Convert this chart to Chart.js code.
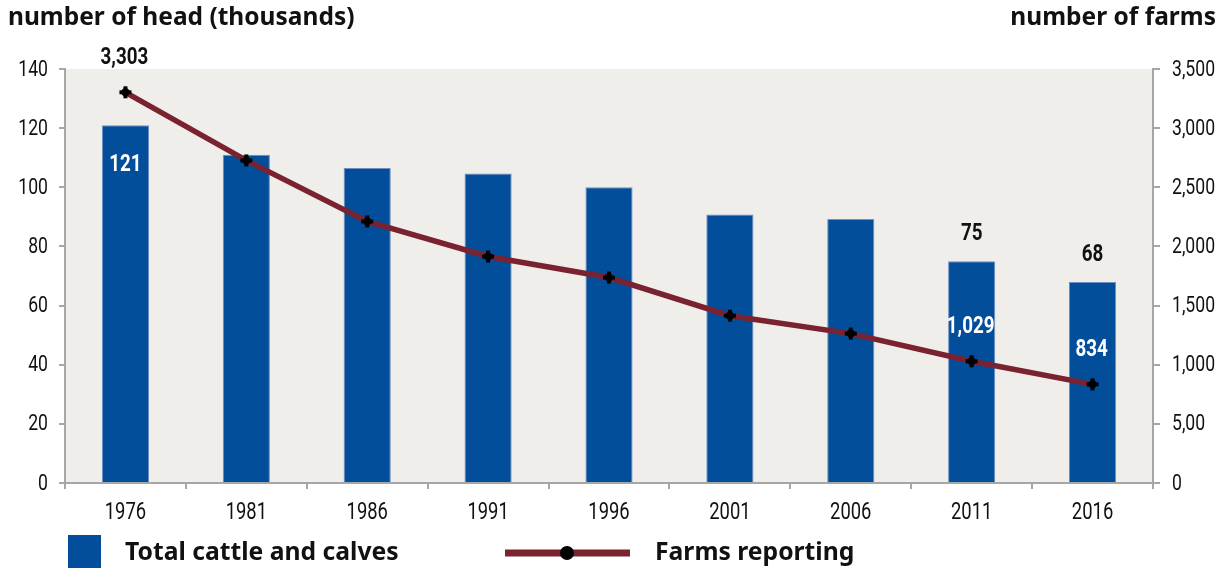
<!DOCTYPE html>
<html>
<head>
<meta charset="utf-8">
<script src="https://cdn.jsdelivr.net/npm/chart.js@4"></script>
<style>
  html, body { margin: 0; padding: 0; background: #fff; }
  #wrap { width: 1222px; height: 571px; }
</style>
</head>
<body>
<div id="wrap"><canvas id="cattleChart" width="1222" height="571"></canvas></div>
<script>
// census years and values
const years = ['1976', '1981', '1986', '1991', '1996', '2001', '2006', '2011', '2016'];
const cattleHead = [121, 111, 106.5, 104.7, 100, 90.8, 89.3, 75, 68];
const farmsReporting = [3303, 2727, 2211, 1915, 1737, 1414, 1263, 1029, 834];
const rightTickLabels = ['0', '5,00', '1,000', '1,500', '2,000', '2,500', '3,000', '3,500'];

// which points get a value printed on them
const barLabels = [{ i: 0, where: 'inside' }, { i: 7, where: 'above' }, { i: 8, where: 'above' }];
const lineLabels = [{ i: 0, where: 'above' }, { i: 7, where: 'below' }, { i: 8, where: 'below' }];

const NARROW = "Roboto, 'Noto Sans', sans-serif";
const BOLD = "'Noto Sans', 'DejaVu Sans', sans-serif";
const SQUEEZE = 0.8; // no condensed face installed, so squeeze text sideways
const BLUE = '#034E9B';
const MAROON = '#7A2230';
const AXIS = '#A6A6A6';

const fmt = v => Math.round(v).toLocaleString('en-US');

function narrowText(ctx, text, x, y, align) {
    ctx.save();
    ctx.translate(x, y);
    ctx.scale(SQUEEZE, 1);
    ctx.textAlign = align;
    ctx.fillText(text, 0, 0);
    ctx.restore();
}

// light grey plot background
const plotBg = {
    id: 'plotBg',
    beforeDraw(chart) {
        const { ctx, chartArea: a } = chart;
        ctx.save();
        ctx.fillStyle = '#EFEEEA';
        ctx.fillRect(a.left, a.top, a.right - a.left, a.bottom - a.top);
        ctx.restore();
    }
};

// tick labels in a narrow face, value labels, axis titles and the legend
const extras = {
    id: 'extras',
    afterDraw(chart) {
        const { ctx, scales } = chart;
        const bars = chart.getDatasetMeta(1).data;
        const pts = chart.getDatasetMeta(0).data;
        ctx.save();
        ctx.textBaseline = 'middle';
        ctx.fillStyle = '#111';

        ctx.font = '400 23px ' + NARROW;
        scales.x.ticks.forEach((t, i) => {
            narrowText(ctx, years[i], scales.x.getPixelForTick(i), 513, 'center');
        });
        ctx.font = '400 22px ' + NARROW;
        scales.yLeft.ticks.forEach((t, i) => {
            narrowText(ctx, String(t.value), scales.yLeft.left + 48, scales.yLeft.getPixelForTick(i) + 1, 'right');
        });
        scales.yRight.ticks.forEach((t, i) => {
            narrowText(ctx, rightTickLabels[i], scales.yRight.left + 19, scales.yRight.getPixelForTick(i) + 1, 'left');
        });

        ctx.font = 'bold 23.5px ' + NARROW;
        barLabels.forEach(l => {
            const b = bars[l.i];
            if (l.where === 'inside') {
                ctx.fillStyle = '#fff';
                narrowText(ctx, fmt(cattleHead[l.i]), b.x, b.y + 40, 'center');
            } else {
                ctx.fillStyle = '#111';
                narrowText(ctx, fmt(cattleHead[l.i]), b.x, b.y - 27, 'center');
            }
        });
        lineLabels.forEach(l => {
            const p = pts[l.i];
            ctx.fillStyle = l.where === 'above' ? '#111' : '#fff';
            narrowText(ctx, fmt(farmsReporting[l.i]), p.x - 1, p.y - 34, 'center');
        });

        // axis titles
        ctx.fillStyle = '#111';
        ctx.font = 'bold 24.5px ' + BOLD;
        ctx.textAlign = 'left';
        ctx.fillText('number of head (thousands)', 8, 18);
        ctx.textAlign = 'right';
        ctx.fillText('number of farms', 1216, 18);

        // legend
        ctx.fillStyle = BLUE;
        ctx.fillRect(68, 535, 33, 33);
        ctx.fillStyle = '#111';
        ctx.textAlign = 'left';
        ctx.font = 'bold 24.7px ' + BOLD;
        ctx.fillText('Total cattle and calves', 125, 553);
        ctx.strokeStyle = MAROON;
        ctx.lineWidth = 7;
        ctx.beginPath();
        ctx.moveTo(505, 553);
        ctx.lineTo(630, 553);
        ctx.stroke();
        ctx.fillStyle = '#000';
        ctx.beginPath();
        ctx.arc(567, 553, 7, 0, Math.PI * 2);
        ctx.fill();
        ctx.fillStyle = '#111';
        ctx.fillText('Farms reporting', 655, 553);
        ctx.restore();
    }
};

// black plus-shaped markers on the farm line
const markers = {
    id: 'markers',
    afterDatasetsDraw(chart) {
        const { ctx } = chart;
        ctx.save();
        ctx.fillStyle = '#000';
        chart.getDatasetMeta(0).data.forEach(p => {
            ctx.fillRect(p.x - 6, p.y - 2, 12, 4);
            ctx.fillRect(p.x - 2, p.y - 6, 4, 12);
            ctx.beginPath();
            ctx.arc(p.x, p.y, 4, 0, Math.PI * 2);
            ctx.fill();
        });
        ctx.restore();
    }
};

const hiddenTicks = { color: 'rgba(0,0,0,0)', font: { size: 20 } };

const ctx = document.getElementById('cattleChart').getContext('2d');
new Chart(ctx, {
    type: 'bar',
    data: {
        labels: years,
        datasets: [
            {
                type: 'line',
                label: 'Farms reporting',
                data: farmsReporting,
                yAxisID: 'yRight',
                borderColor: MAROON,
                borderWidth: 5.5,
                pointRadius: 0,
                tension: 0,
                order: 0
            },
            {
                label: 'Total cattle and calves',
                data: cattleHead,
                yAxisID: 'yLeft',
                backgroundColor: BLUE,
                borderColor: '#6F8FC0',
                borderWidth: 1,
                barPercentage: 0.39,
                categoryPercentage: 1,
                order: 1
            }
        ]
    },
    options: {
        responsive: false,
        animation: false,
        layout: { padding: { top: 69, left: 0, right: 0, bottom: 0 } },
        plugins: {
            legend: { display: false },
            tooltip: { enabled: false }
        },
        scales: {
            x: {
                offset: true,
                grid: { offset: true, drawOnChartArea: false, color: AXIS, lineWidth: 2, tickLength: 6 },
                border: { color: AXIS, width: 2 },
                ticks: hiddenTicks,
                afterFit: s => { s.height = 88; }
            },
            yLeft: {
                position: 'left',
                min: 0, max: 140,
                ticks: Object.assign({ stepSize: 20 }, hiddenTicks),
                grid: { drawOnChartArea: false, color: AXIS, lineWidth: 2, tickLength: 6 },
                border: { color: AXIS, width: 2 },
                afterFit: s => { s.width = 65; }
            },
            yRight: {
                position: 'right',
                min: 0, max: 3500,
                ticks: Object.assign({ stepSize: 500 }, hiddenTicks),
                grid: { drawOnChartArea: false, color: AXIS, lineWidth: 2, tickLength: 7 },
                border: { color: AXIS, width: 2 },
                afterFit: s => { s.width = 69; }
            }
        }
    },
    plugins: [plotBg, markers, extras]
});
</script>
</body>
</html>
